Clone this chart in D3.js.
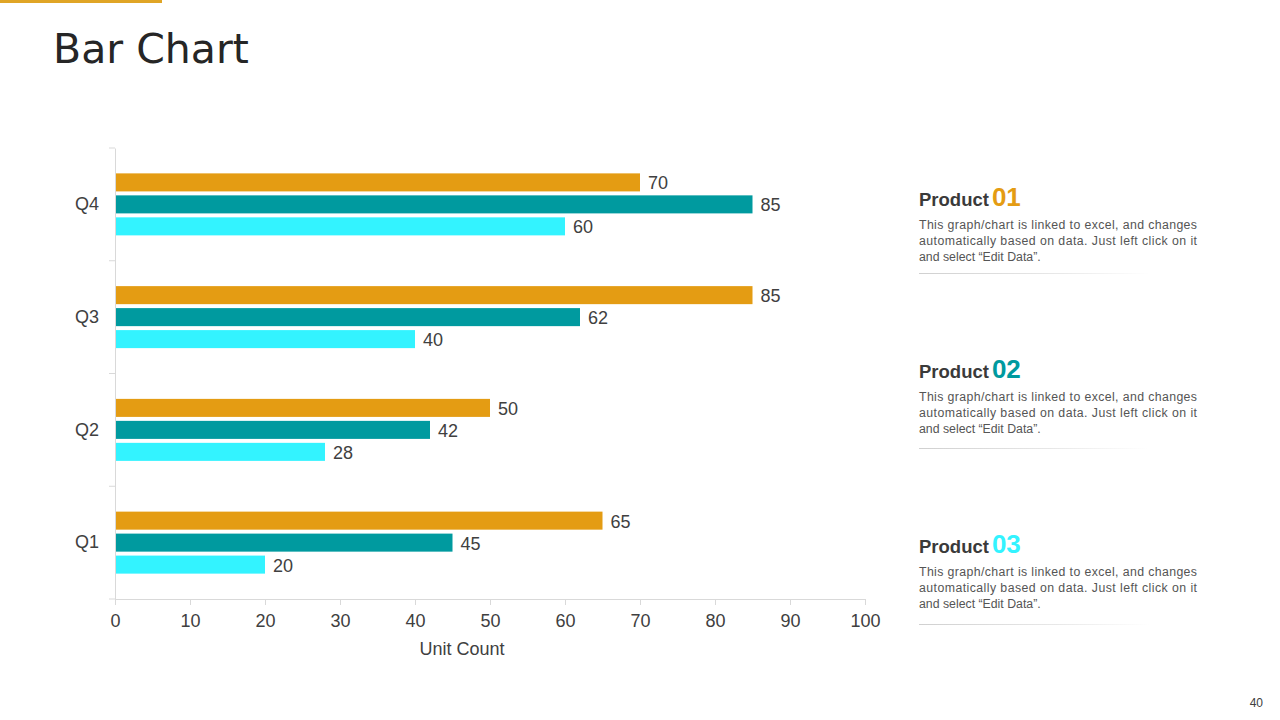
<!DOCTYPE html>
<html>
<head>
<meta charset="utf-8">
<script src="https://cdn.jsdelivr.net/npm/d3@7"></script>
<style>
  body { margin: 0; background: #fff; }
  svg { display: block; }
</style>
</head>
<body>
<svg id="chart" width="1280" height="720"></svg>
<script>
const quarters = ["Q4", "Q3", "Q2", "Q1"];
const seriesNames = ["Product 01", "Product 02", "Product 03"];
const product01 = [70, 85, 50, 65];
const product02 = [85, 62, 42, 45];
const product03 = [60, 40, 28, 20];
const xTicks = [0, 10, 20, 30, 40, 50, 60, 70, 80, 90, 100];
const productNums = ["01", "02", "03"];
const blurb = ["This graph/chart is linked to excel, and changes",
               "automatically based on data. Just left click on it",
               "and select \u201cEdit Data\u201d."];

const colors = ["#E49C13", "#009A9F", "#33F3FF"];
const series = [product01, product02, product03];

const svg = d3.select("#chart");

// header
svg.append("rect").attr("x", 0).attr("y", 0).attr("width", 162).attr("height", 3).attr("fill", "#E0A526");
svg.append("text").attr("x", 53).attr("y", 63).text("Bar Chart")
  .attr("font-family", "'URW Gothic', 'Century Gothic', 'DejaVu Sans', sans-serif")
  .attr("font-size", 41).attr("fill", "#262626");

const margin = { left: 115, right: 865, top: 148, bottom: 599 };
const x = d3.scaleLinear().domain([0, 100]).range([margin.left, margin.right]);
const y = d3.scaleBand().domain(quarters).range([margin.top, margin.bottom]);
const inner = d3.scaleBand().domain(d3.range(3)).range([-31, 31]).paddingInner(0.18);

const font = "Arial, 'Liberation Sans', sans-serif";

// x axis
const xAxis = svg.append("g").attr("transform", `translate(0,${margin.bottom})`)
  .call(d3.axisBottom(x).tickValues(xTicks).tickSize(6).tickPadding(9));
xAxis.select(".domain").attr("stroke", "#d9d9d9");
xAxis.selectAll(".tick line").attr("stroke", "#d9d9d9");
xAxis.selectAll("text").attr("font-family", font).attr("font-size", 18).attr("fill", "#404040");

// y axis
const yAxis = svg.append("g").attr("transform", `translate(${margin.left},0)`)
  .call(d3.axisLeft(y).tickSize(0).tickPadding(16));
yAxis.select(".domain").attr("stroke", "#d9d9d9");
yAxis.selectAll("text").attr("font-family", font).attr("font-size", 18).attr("fill", "#404040");
const bounds = quarters.map(q => y(q)).concat([margin.bottom]);
yAxis.selectAll(".bound").data(bounds).enter().append("line")
  .attr("x1", -6).attr("x2", 0).attr("y1", d => d).attr("y2", d => d)
  .attr("stroke", "#d9d9d9");

svg.append("text").attr("x", (margin.left + margin.right) / 2 - 28).attr("y", 655)
  .attr("text-anchor", "middle").attr("font-family", font).attr("font-size", 18)
  .attr("fill", "#404040").text("Unit Count");

// bars
series.forEach((vals, si) => {
  const g = svg.append("g");
  const rows = quarters.map((q, i) => ({ q, v: vals[i] }));
  g.selectAll("rect").data(rows).enter().append("rect")
    .attr("x", x(0) + 1)
    .attr("y", d => y(d.q) + y.bandwidth() / 2 + inner(si))
    .attr("width", d => x(d.v) - x(0) - 1)
    .attr("height", inner.bandwidth())
    .attr("fill", colors[si]);
  g.selectAll("text").data(rows).enter().append("text")
    .attr("x", d => x(d.v) + 8)
    .attr("y", d => y(d.q) + y.bandwidth() / 2 + inner(si) + inner.bandwidth() / 2 + 7)
    .attr("font-family", font).attr("font-size", 18).attr("fill", "#404040")
    .text(d => d.v);
});

// side panel
const grad = svg.append("defs").append("linearGradient").attr("id", "fade");
grad.append("stop").attr("offset", "0%").attr("stop-color", "#d0d0d0");
grad.append("stop").attr("offset", "60%").attr("stop-color", "#e8e8e8");
grad.append("stop").attr("offset", "100%").attr("stop-color", "#fff");

const panelTops = [206, 378, 553];
const ruleOffsets = [67, 70, 71];
seriesNames.forEach((name, i) => {
  const g = svg.append("g").attr("transform", `translate(919,${panelTops[i]})`);
  const t = g.append("text").attr("font-family", font);
  t.append("tspan").attr("font-size", 18.5).attr("font-weight", "bold").attr("fill", "#3a3a3a").text("Product");
  t.append("tspan").attr("dx", 3).attr("font-size", 26).attr("font-weight", "bold").attr("fill", colors[i]).text(productNums[i]);
  blurb.forEach((line, j) => {
    g.append("text").attr("x", 0).attr("y", 23 + j * 16)
      .attr("font-family", font).attr("font-size", 12.3).attr("fill", "#555")
      .attr("textLength", j < 2 ? 278 : null)
      .attr("lengthAdjust", "spacing")
      .text(line);
  });
  g.append("rect").attr("x", 0).attr("y", ruleOffsets[i]).attr("width", 230).attr("height", 1).attr("fill", "url(#fade)");
});

svg.append("text").attr("x", 1263).attr("y", 707).attr("text-anchor", "end")
  .attr("font-family", font).attr("font-size", 12).attr("fill", "#404040").text("40");
</script>
</body>
</html>
